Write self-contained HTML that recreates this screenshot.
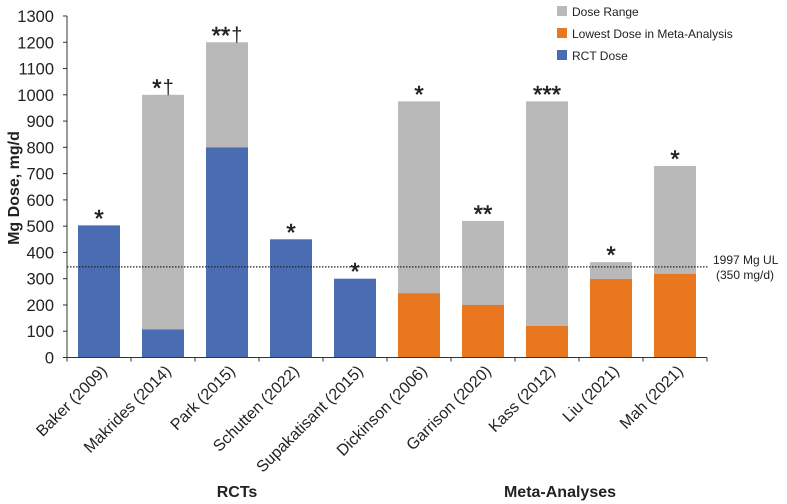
<!DOCTYPE html>
<html><head><meta charset="utf-8"><style>
html,body{margin:0;padding:0;background:#fff;}
svg{display:block;font-family:"Liberation Sans",Arial,sans-serif;}
</style></head><body>
<svg id="chart" width="787" height="504" viewBox="0 0 787 504" xmlns="http://www.w3.org/2000/svg"></svg>
<script>
const categories=["Baker (2009)","Makrides (2014)","Park (2015)","Schutten (2022)","Supakatisant (2015)","Dickinson (2006)","Garrison (2020)","Kass (2012)","Liu (2021)","Mah (2021)"];
const lowDose=[503,107,800,450,300,245,200,120,299,319];
const topDose=[503,1000,1200,450,300,975,520,975,363,729];
const isRCT=[1,1,1,1,1,0,0,0,0,0];
const stars=["*","*","**","*","*","*","**","***","*","*"];
const daggers=["","†","†","","","","","","",""];
const yTicks=[0,100,200,300,400,500,600,700,800,900,1000,1100,1200,1300];
const ulValue=345;
const NS="http://www.w3.org/2000/svg";
const svg=document.getElementById('chart');
const x0=67,band=64,y0=357.5,pxPer=(357.5-16)/1300,barW=42;
const yS=v=>y0-v*pxPer;
const xC=i=>x0+band*(i+0.5);
function el(t,a,txt,parent){const e=document.createElementNS(NS,t);for(const k in a)e.setAttribute(k,a[k]);if(txt!==undefined)e.textContent=txt;(parent||svg).appendChild(e);return e;}
categories.forEach((c,i)=>{
 const x=xC(i)-barW/2;
 const g=el('rect',{x:x,y:yS(topDose[i]),width:barW,height:yS(lowDose[i])-yS(topDose[i]),fill:'#b9b9b9'});
 
 
 const b=el('rect',{x:x,y:yS(lowDose[i]),width:barW,height:y0-yS(lowDose[i]),fill:isRCT[i]?'#4a6cb3':'#e8771f'});
 
 
 const m=el('text',{x:xC(i),y:yS(topDose[i])+1,'text-anchor':'middle','fill':'#222'});
 
 
 el('tspan',{'font-size':'24','stroke':'#222','stroke-width':'0.5'},stars[i],m);
 if(daggers[i]) el('tspan',{'font-size':'20','dy':'-2','dx':'1'},daggers[i],m);
 const t=el('text',{transform:`translate(${xC(i)+9},${372}) rotate(-45)`,'text-anchor':'end','font-size':'16','fill':'#222'},c);
 
 
});
let a=el('line',{x1:x0,y1:16,x2:x0,y2:y0,stroke:'#333','stroke-width':1});

a=el('line',{x1:x0,y1:y0,x2:x0+band*10,y2:y0,stroke:'#333','stroke-width':1});

for(let i=0;i<=10;i++){el('line',{x1:x0+band*i,y1:y0,x2:x0+band*i,y2:y0+4,stroke:'#333'});}
yTicks.forEach(v=>{
 el('line',{x1:x0-4,y1:yS(v),x2:x0,y2:yS(v),stroke:'#333'});
 const t=el('text',{x:x0-13,y:yS(v)+6,'text-anchor':'end','font-size':'16.5','fill':'#222'},v);
 
 
});
const ul=el('line',{x1:x0,y1:yS(ulValue),x2:x0+band*10+2,y2:yS(ulValue),stroke:'#222','stroke-width':1.2,'stroke-dasharray':'1.5,1.5'});

</script>
<svg style="position:absolute;left:0;top:0" width="787" height="504">
<text x="713" y="264" font-size="12" fill="#222" font-family="Liberation Sans, sans-serif">1997 Mg UL</text>
<text x="716" y="279" font-size="12" fill="#222" font-family="Liberation Sans, sans-serif">(350 mg/d)</text>
<text transform="translate(19,188) rotate(-90)" text-anchor="middle" font-size="16" font-weight="bold" fill="#222" font-family="Liberation Sans, sans-serif">Mg Dose, mg/d</text>
<text x="237" y="497" text-anchor="middle" font-size="16" font-weight="bold" fill="#222" font-family="Liberation Sans, sans-serif">RCTs</text>
<text x="560" y="497" text-anchor="middle" font-size="16" font-weight="bold" fill="#222" font-family="Liberation Sans, sans-serif">Meta-Analyses</text>
<g font-family="Liberation Sans, sans-serif" font-size="12" fill="#222">
<rect x="557" y="6" width="10" height="10" fill="#b9b9b9"/>
<text x="572" y="16">Dose Range</text>
<rect x="557" y="28" width="10" height="10" fill="#e8771f"/>
<text x="572" y="38">Lowest Dose in Meta-Analysis</text>
<rect x="557" y="50" width="10" height="10" fill="#4a6cb3"/>
<text x="572" y="60">RCT Dose</text>
</g>
</svg>
</body></html>
